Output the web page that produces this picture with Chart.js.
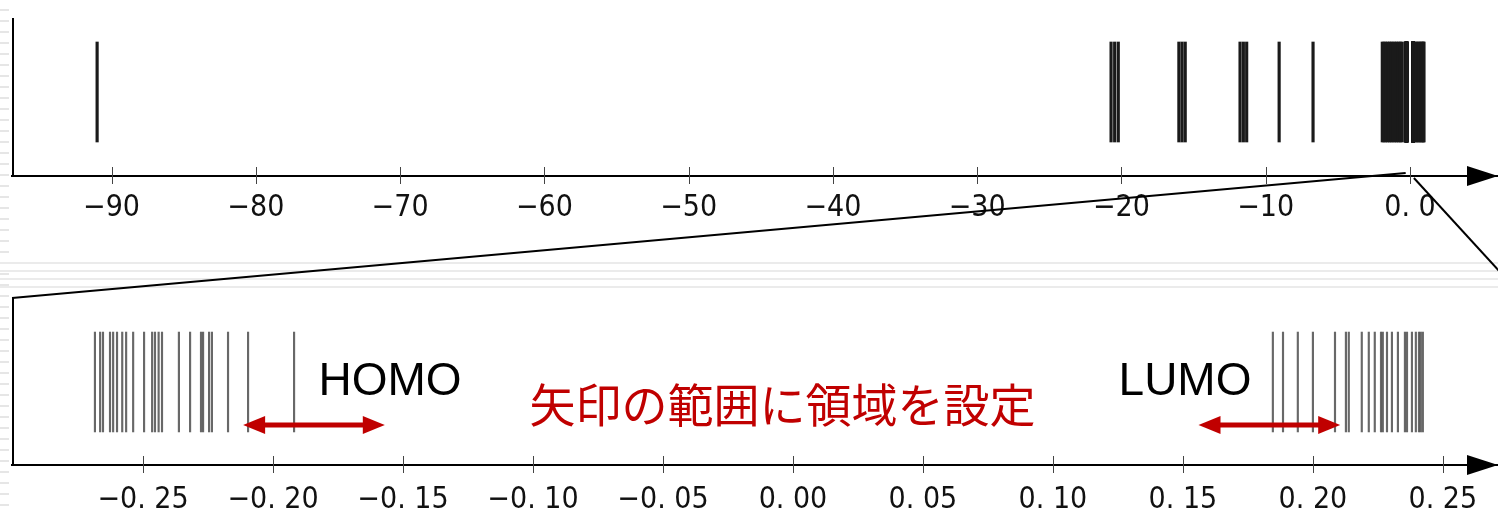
<!DOCTYPE html>
<html>
<head>
<meta charset="utf-8">
<script src="https://cdn.jsdelivr.net/npm/chart.js@4.4.1/dist/chart.umd.min.js"></script>
<style>
html, body { margin: 0; padding: 0; background: #fff; }
#wrap { position: relative; width: 1498px; height: 512px; overflow: hidden; background: #fff; }
#margen { position: absolute; left: 0; top: 0; width: 9px; height: 512px;
  background: repeating-linear-gradient(to bottom, #fff 0, #fff 9px, #e6e6e6 9px, #e6e6e6 11px); }
.franja { position: absolute; left: 0; width: 1498px; height: 2px; background: #ebebeb; }
#boxTop { position: absolute; left: 0; top: 0; }
#boxBottom { position: absolute; left: 0; top: 262px; }
#overlay { position: absolute; left: 0; top: 0; pointer-events: none; }
</style>
</head>
<body>
<div id="wrap">
  <div id="margen"></div>
  <div class="franja" style="top:262px"></div>
  <div class="franja" style="top:270px"></div>
  <div class="franja" style="top:278px"></div>
  <div class="franja" style="top:286px"></div>
  <div id="boxTop"><canvas id="chartTop" width="1498" height="240"></canvas></div>
  <div id="boxBottom"><canvas id="chartBottom" width="1498" height="273"></canvas></div>
  <canvas id="overlay" width="1498" height="512"></canvas>
</div>
<script>
// Niveles de energía (valores propios)
var nivelesInternos = [-91.0, -20.72, -20.47, -20.22, -16.02, -15.8, -15.58, -11.78, -11.55, -11.32, -9.07, -6.72];
var nivelesValencia = [-1.92, -1.8, -1.68, -1.55, -1.42, -1.3, -1.18, -1.05, -0.93, -0.8, -0.68, -0.58, -0.36];
var nivelesOcupados = [-0.2685, -0.2665, -0.2654, -0.2627, -0.2615, -0.2600, -0.2580, -0.2565, -0.2538, -0.2496,
  -0.2465, -0.2454, -0.2440, -0.2427, -0.2362, -0.2319, -0.2277, -0.2269, -0.2246, -0.2235, -0.2173, -0.2096, -0.1919];
var nivelesVirtuales = [0.1846, 0.1885, 0.1942, 0.2000, 0.2085, 0.2127, 0.2138, 0.2188, 0.2215, 0.2238, 0.2262,
  0.2269, 0.2285, 0.2304, 0.2327, 0.2354, 0.2362, 0.2381, 0.2396, 0.2408, 0.2415, 0.2423];
var nivelesAltos = [0.34, 0.45, 0.55, 0.65, 0.75, 0.84, 0.92, 0.97];

var todosNiveles = [].concat(nivelesInternos, nivelesValencia, nivelesOcupados, nivelesVirtuales, nivelesAltos);

// Ejes
var rangoSuperior = [-96.9, 6.1];
var ticksSuperior = [-90, -80, -70, -60, -50, -40, -30, -20, -10, 0];
var rangoInferior = [-0.3004, 0.2712];
var ticksInferior = [-0.25, -0.20, -0.15, -0.10, -0.05, 0.00, 0.05, 0.10, 0.15, 0.20, 0.25];

// Anotaciones (en unidades del eje inferior)
var flechaHomo = [-0.2115, -0.157];
var flechaLumo = [0.156, 0.2105];
var textoHomo = 'HOMO';
var textoLumo = 'LUMO';
var textoRegion = '矢印の範囲に領域を設定';

Chart.defaults.font.family = "'Liberation Sans Narrow', 'DejaVu Sans Condensed', 'Liberation Sans', sans-serif";
Chart.defaults.color = '#000';

function etiquetaSuperior(v) {
    if (v === 0) return '0. 0';
    return '\u2212' + Math.abs(v);
}
function etiquetaInferior(v) {
    var s = Math.abs(v).toFixed(2).replace('.', '. ');
    return (v < 0 ? '\u2212' : '') + s;
}

// Marco izquierdo, marcas de graduación y punta de flecha del eje
var ejePlugin = {
    id: 'ejeFlecha',
    afterDraw: function (chart) {
        var ctx = chart.ctx, a = chart.chartArea, sx = chart.scales.x;
        ctx.save();
        ctx.strokeStyle = '#000';
        ctx.lineWidth = 2;
        ctx.beginPath();
        ctx.moveTo(a.left + 1, a.top);
        ctx.lineTo(a.left + 1, a.bottom);
        ctx.stroke();
        ctx.strokeStyle = '#444';
        ctx.lineWidth = 1;
        sx.ticks.forEach(function (t) {
            var x = Math.round(sx.getPixelForValue(t.value)) + 0.5;
            ctx.beginPath();
            ctx.moveTo(x, a.bottom - 9);
            ctx.lineTo(x, a.bottom + 8);
            ctx.stroke();
        });
        ctx.fillStyle = '#000';
        ctx.beginPath();
        ctx.moveTo(chart.width - 31, a.bottom - 10);
        ctx.lineTo(chart.width, a.bottom);
        ctx.lineTo(chart.width - 31, a.bottom + 10);
        ctx.closePath();
        ctx.fill();
        ctx.restore();
    }
};

function flechaDoble(ctx, x1, x2, y) {
    var largo = 22, alto = 9;
    ctx.lineWidth = 5;
    ctx.beginPath();
    ctx.moveTo(x1 + largo - 2, y);
    ctx.lineTo(x2 - largo + 2, y);
    ctx.stroke();
    ctx.beginPath();
    ctx.moveTo(x1, y);
    ctx.lineTo(x1 + largo, y - alto);
    ctx.lineTo(x1 + largo, y + alto);
    ctx.closePath();
    ctx.fill();
    ctx.beginPath();
    ctx.moveTo(x2, y);
    ctx.lineTo(x2 - largo, y - alto);
    ctx.lineTo(x2 - largo, y + alto);
    ctx.closePath();
    ctx.fill();
}

var anotacionPlugin = {
    id: 'anotaciones',
    afterDraw: function (chart) {
        var ctx = chart.ctx, sx = chart.scales.x, sy = chart.scales.y;
        ctx.save();
        ctx.fillStyle = '#c00000';
        ctx.strokeStyle = '#c00000';
        var yFlecha = sy.getPixelForValue(0.07);
        flechaDoble(ctx, sx.getPixelForValue(flechaHomo[0]), sx.getPixelForValue(flechaHomo[1]), yFlecha);
        flechaDoble(ctx, sx.getPixelForValue(flechaLumo[0]), sx.getPixelForValue(flechaLumo[1]), yFlecha);

        ctx.textAlign = 'center';
        ctx.textBaseline = 'middle';
        ctx.font = "46px 'Noto Sans CJK JP'";
        ctx.fillText(textoRegion, sx.getPixelForValue(-0.004), sy.getPixelForValue(0.27));

        ctx.fillStyle = '#000';
        ctx.font = "46px 'Liberation Sans', Arial, sans-serif";
        ctx.fillText(textoHomo, sx.getPixelForValue(-0.155), sy.getPixelForValue(0.5));
        ctx.fillText(textoLumo, sx.getPixelForValue(0.1508), sy.getPixelForValue(0.5));
        ctx.restore();
    }
};

function crearEspectro(idCanvas, rango, ticks, formato, yRango, padding, tickPad, grosor, color, extras) {
    var ctx = document.getElementById(idCanvas).getContext('2d');
    return new Chart(ctx, {
        type: 'bar',
        data: {
            datasets: [{
                data: todosNiveles.map(function (v) { return { x: v, y: 1 }; }),
                backgroundColor: color,
                borderWidth: 0,
                barThickness: grosor
            }]
        },
        options: {
            responsive: false,
            animation: false,
            layout: { padding: padding },
            plugins: { legend: { display: false }, tooltip: { enabled: false } },
            scales: {
                x: {
                    type: 'linear',
                    offset: false,
                    min: rango[0],
                    max: rango[1],
                    afterBuildTicks: function (scale) {
                        scale.ticks = ticks.map(function (v) { return { value: v }; });
                    },
                    grid: { display: false, drawTicks: false },
                    border: { display: true, color: '#000', width: 2 },
                    ticks: {
                        font: { size: 30 },
                        color: '#111',
                        padding: tickPad,
                        maxRotation: 0,
                        autoSkip: false,
                        callback: function (v) { return formato(v); }
                    }
                },
                y: { display: false, min: yRango[0], max: yRango[1] }
            }
        },
        plugins: [ejePlugin].concat(extras)
    });
}

var graficoSuperior = crearEspectro('chartTop', rangoSuperior, ticksSuperior, etiquetaSuperior,
    [-0.34, 1.24], { left: 12, right: 0, top: 18, bottom: 0 }, 14, 2.5, '#1a1a1a', []);

var graficoInferior = crearEspectro('chartBottom', rangoInferior, ticksInferior, etiquetaInferior,
    [-0.331, 1.341], { left: 12, right: 0, top: 36, bottom: 0 }, 17, 1.5, 'rgba(40,40,40,0.7)', [anotacionPlugin]);

// Líneas de ampliación entre ambos paneles
(function () {
    var ov = document.getElementById('overlay').getContext('2d');
    var aSup = graficoSuperior.chartArea, aInf = graficoInferior.chartArea;
    var offInf = 262;
    var sx = graficoSuperior.scales.x;
    ov.strokeStyle = '#000';
    ov.lineWidth = 2;
    ov.beginPath();
    ov.moveTo(aInf.left, aInf.top + offInf);
    ov.lineTo(sx.getPixelForValue(rangoInferior[0]), aSup.bottom - 3);
    ov.stroke();
    ov.beginPath();
    ov.moveTo(sx.getPixelForValue(rangoInferior[1]), aSup.bottom + 2);
    ov.lineTo(aInf.right + 26, aInf.top + offInf);
    ov.stroke();
})();
</script>
</body>
</html>
